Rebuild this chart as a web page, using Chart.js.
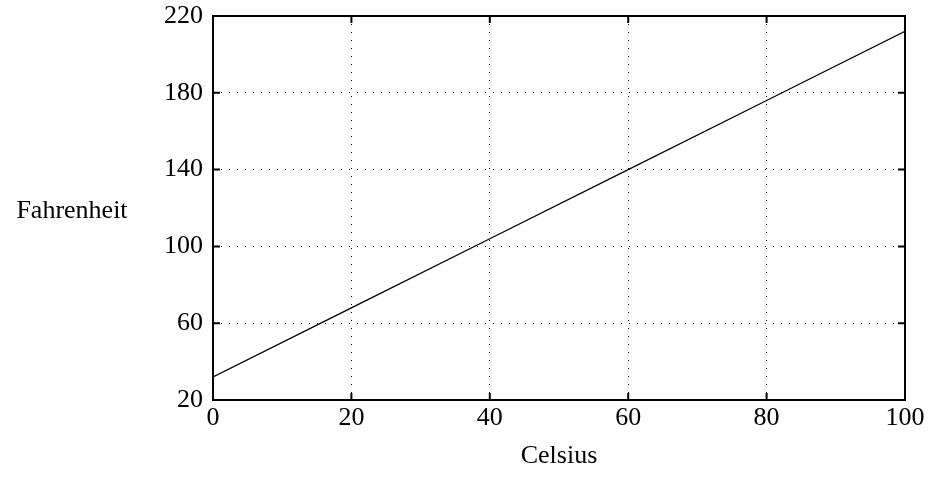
<!DOCTYPE html>
<html>
<head>
<meta charset="utf-8">
<script src="https://cdn.jsdelivr.net/npm/chart.js@4"></script>
<style>
  html, body { margin: 0; padding: 0; background: #fff; }
  #wrap { width: 929px; height: 479px; }
</style>
</head>
<body>
<div id="wrap"><canvas id="chart" width="929" height="479"></canvas></div>
<script>
// values
const celsius = [0, 20, 40, 60, 80, 100];
const fahrenheit = [32, 68, 104, 140, 176, 212];
const xTicks = [0, 20, 40, 60, 80, 100];
const yTicks = [20, 60, 100, 140, 180, 220];
const xTitle = 'Celsius';
const yTitle = 'Fahrenheit';

const serif = '"Liberation Serif", "Times New Roman", serif';

// frame round the plot, with short inward ticks on every side
const framePlugin = {
    id: 'frame',
    afterDraw(chart) {
        const ctx = chart.ctx;
        const a = chart.chartArea;
        const xs = chart.scales.x, ys = chart.scales.y;
        const len = 7;
        ctx.save();
        ctx.strokeStyle = '#000';
        ctx.lineWidth = 2;
        ctx.strokeRect(a.left, a.top, a.right - a.left, a.bottom - a.top);
        ctx.beginPath();
        xTicks.forEach(v => {
            const px = xs.getPixelForValue(v);
            ctx.moveTo(px, a.bottom); ctx.lineTo(px, a.bottom - len);
            ctx.moveTo(px, a.top); ctx.lineTo(px, a.top + len);
        });
        yTicks.forEach(v => {
            const py = ys.getPixelForValue(v);
            ctx.moveTo(a.left, py); ctx.lineTo(a.left + len, py);
            ctx.moveTo(a.right, py); ctx.lineTo(a.right - len, py);
        });
        ctx.stroke();

        // horizontal y title on the left
        ctx.fillStyle = '#000';
        ctx.font = '26px ' + serif;
        ctx.textAlign = 'center';
        ctx.textBaseline = 'alphabetic';
        ctx.fillText(yTitle, 72, 218);
        ctx.restore();
    }
};

const ctx = document.getElementById('chart').getContext('2d');
new Chart(ctx, {
    type: 'line',
    data: {
        datasets: [{
            data: celsius.map((c, i) => ({ x: c, y: fahrenheit[i] })),
            borderColor: '#000',
            borderWidth: 1.3,
            pointRadius: 0,
            tension: 0,
            fill: false
        }]
    },
    options: {
        responsive: false,
        animation: false,
        events: [],
        layout: { padding: { left: 0, top: 16, right: 24, bottom: 0 } },
        plugins: { legend: { display: false }, tooltip: { enabled: false } },
        scales: {
            x: {
                type: 'linear',
                min: 0, max: 100,
                afterFit: s => { s.height = 79; s.paddingLeft = 0; s.paddingRight = 0; },
                afterBuildTicks: s => { s.ticks = xTicks.map(v => ({ value: v })); },
                ticks: { color: '#000', font: { family: serif, size: 26 }, padding: 3, maxRotation: 0 },
                grid: { color: '#000', lineWidth: 1, drawTicks: false },
                border: { display: false, dash: [1, 7] },
                title: { display: true, text: xTitle, color: '#000', font: { family: serif, size: 26 }, padding: { top: 0, bottom: 7 } }
            },
            y: {
                type: 'linear',
                min: 20, max: 220,
                afterFit: s => { s.width = 213; s.paddingTop = 0; s.paddingBottom = 0; },
                afterBuildTicks: s => { s.ticks = yTicks.map(v => ({ value: v })); },
                ticks: { color: '#000', font: { family: serif, size: 26 }, padding: 10 },
                grid: { color: '#000', lineWidth: 1, drawTicks: false },
                border: { display: false, dash: [1, 7] }
            }
        }
    },
    plugins: [framePlugin]
});
</script>
</body>
</html>
